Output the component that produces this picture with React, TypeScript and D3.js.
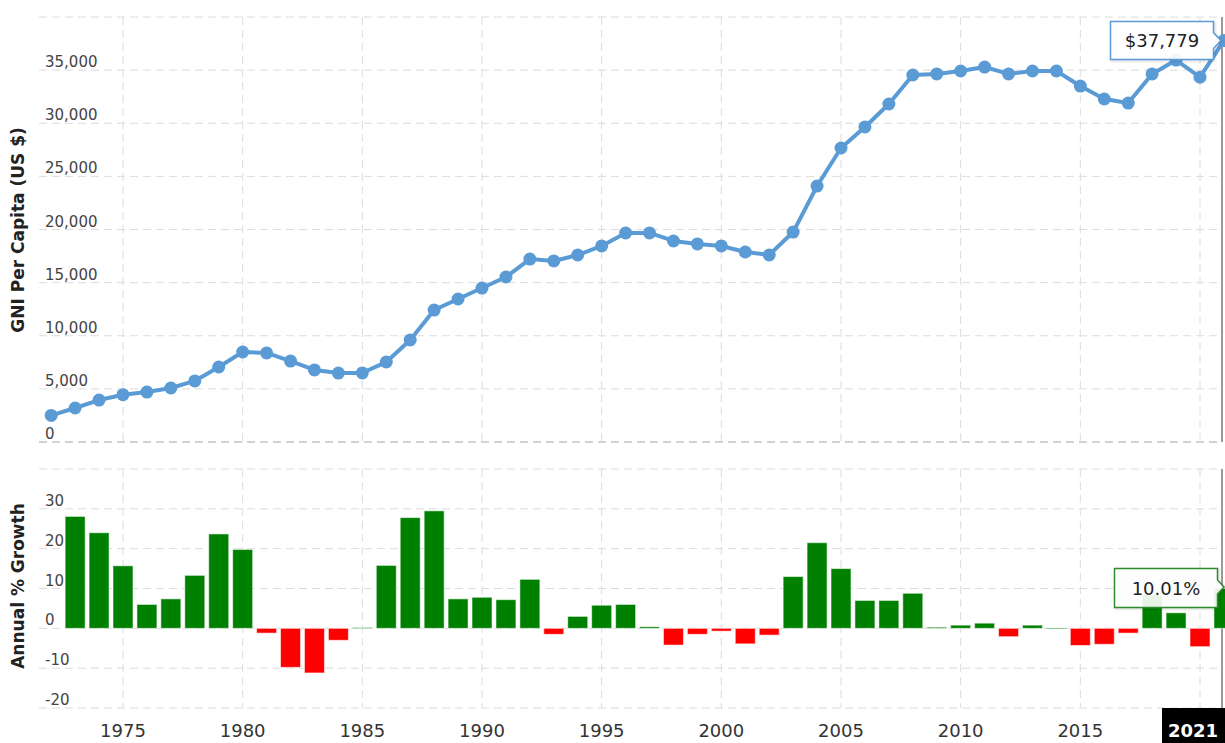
import React from "react";
import * as d3 from "d3";

const years: number[] = d3.range(1972, 2022);
const gniValues: number[] = [
  2500, 3200, 3950, 4450, 4700, 5080, 5750, 7060, 8470, 8380,
  7620, 6780, 6490, 6500, 7530, 9600, 12420, 13460, 14490, 15530,
  17220, 17040, 17600, 18450, 19670, 19680, 18920, 18640, 18450, 17880,
  17600, 19760, 24090, 27670, 29650, 31810, 34540, 34640, 34920, 35290,
  34640, 34920, 34920, 33500, 32280, 31900, 34640, 35950, 34340, 37779,
];
const growthYears: number[] = d3.range(1973, 2022);
const growthValues: number[] = [
  28.1, 24.0, 15.7, 6.0, 7.4, 13.3, 23.7, 19.8, -1.2, -9.8,
  -11.2, -3.0, 0.2, 15.8, 27.8, 29.5, 7.4, 7.8, 7.2, 12.3,
  -1.5, 3.0, 5.8, 6.0, 0.4, -4.2, -1.5, -0.7, -3.9, -1.7,
  13.0, 21.5, 15.0, 7.0, 7.0, 8.8, 0.3, 0.8, 1.3, -2.1,
  0.8, 0.1, -4.3, -4.0, -1.2, 8.4, 3.9, -4.6, 10.01,
];
const xTicks: number[] = [1975, 1980, 1985, 1990, 1995, 2000, 2005, 2010, 2015];
const topTicks: number[] = [0, 5000, 10000, 15000, 20000, 25000, 30000, 35000];
const topGrid: number[] = [0, 5000, 10000, 15000, 20000, 25000, 30000, 35000, 40000];
const bottomTicks: number[] = [-20, -10, 0, 10, 20, 30];
const bottomGrid: number[] = [-20, -10, 0, 10, 20, 30, 40];
const gridYears: number[] = [1975, 1980, 1985, 1990, 1995, 2000, 2005, 2010, 2015, 2020];

const FONT = "'DejaVu Sans', Verdana, sans-serif";

export default function App() {
  const W = 1225;
  const H = 743;
  const left = 39;
  const right = 1222;
  const x = d3.scaleLinear().domain([1975, 2020]).range([123, 1200]);
  const yTop = d3.scaleLinear().domain([0, 40000]).range([442, 17]);
  const yBot = d3.scaleLinear().domain([-20, 40]).range([708, 469]);
  const fmt = d3.format(",");
  const barW = 20;

  const line = d3
    .line<number>()
    .x((_, i) => x(years[i]))
    .y((d) => yTop(d));

  const lastX = x(2021);
  const lastY = yTop(gniValues[gniValues.length - 1]);
  const lastGrowth = growthValues[growthValues.length - 1];
  const grid = "#dcdcdc";

  return (
    <svg
      width={W}
      height={H}
      style={{ position: "absolute", left: 0, top: 0, display: "block", background: "#fff" }}
      fontFamily={FONT}
    >
      <defs>
        <clipPath id="plotclip">
          <rect x={left} y={0} width={W - left} height={H} />
        </clipPath>
        <filter id="shadow" x="-20%" y="-20%" width="140%" height="160%">
          <feDropShadow dx="1" dy="1" stdDeviation="1.2" floodColor="#000" floodOpacity="0.18" />
        </filter>
      </defs>

      {/* Top grid */}
      {topGrid.map((v) => (
        <line
          key={"tg" + v}
          x1={left}
          x2={right}
          y1={yTop(v)}
          y2={yTop(v)}
          stroke={v === 0 ? "#c4c4c4" : grid}
          strokeWidth={v === 0 ? 1.5 : 1}
          strokeDasharray="8,5"
        />
      ))}
      {gridYears.map((yr) => (
        <line
          key={"tv" + yr}
          x1={x(yr)}
          x2={x(yr)}
          y1={yTop(40000)}
          y2={yTop(0)}
          stroke={grid}
          strokeDasharray="8,5"
        />
      ))}
      {/* Bottom grid */}
      {bottomGrid.map((v) => (
        <line
          key={"bg" + v}
          x1={left}
          x2={right}
          y1={yBot(v)}
          y2={yBot(v)}
          stroke={grid}
          strokeDasharray="8,5"
        />
      ))}
      {gridYears.map((yr) => (
        <line
          key={"bv" + yr}
          x1={x(yr)}
          x2={x(yr)}
          y1={yBot(40)}
          y2={yBot(-20)}
          stroke={grid}
          strokeDasharray="8,5"
        />
      ))}

      {/* Top tick labels */}
      {topTicks.map((v) => (
        <text key={"tt" + v} x={45} y={yTop(v) - 3} fontSize={15} fill="#444">
          {fmt(v)}
        </text>
      ))}
      {/* Bottom tick labels */}
      {bottomTicks.map((v) => (
        <text key={"bt" + v} x={45} y={yBot(v) - 3} fontSize={15} fill="#444">
          {v}
        </text>
      ))}

      {/* Axis titles */}
      <text
        transform={`translate(24,230) rotate(-90)`}
        textAnchor="middle"
        fontSize={17}
        fontWeight="bold"
        fill="#222"
      >
        GNI Per Capita (US $)
      </text>
      <text
        transform={`translate(24,586) rotate(-90)`}
        textAnchor="middle"
        fontSize={17}
        fontWeight="bold"
        fill="#222"
      >
        Annual % Growth
      </text>

      {/* Crosshair */}
      <line x1={right} x2={right} y1={yTop(40000)} y2={yTop(0)} stroke="#9a9a9a" strokeWidth={2} />
      <line x1={right} x2={right} y1={yBot(40)} y2={yBot(-20)} stroke="#9a9a9a" strokeWidth={2} />

      {/* Bars */}
      <g clipPath="url(#plotclip)">
        {growthValues.map((v, i) => {
          const cx = x(growthYears[i]);
          const y0 = yBot(0);
          const y1 = yBot(v);
          return (
            <rect
              key={"bar" + i}
              x={cx - barW / 2}
              y={Math.min(y0, y1)}
              width={barW}
              height={Math.max(Math.abs(y1 - y0), 1)}
              fill={v >= 0 ? "#008000" : "#ff0000"}
              stroke="#ffffff"
              strokeOpacity={0.55}
              strokeWidth={1}
            />
          );
        })}
      </g>

      {/* Line + dots */}
      <g clipPath="url(#plotclip)">
        <path d={line(gniValues) || ""} fill="none" stroke="#5b9bd5" strokeWidth={4} strokeLinejoin="round" />
        {gniValues.map((v, i) => (
          <circle key={"pt" + i} cx={x(years[i])} cy={yTop(v)} r={6.5} fill="#5b9bd5" />
        ))}
      </g>

      {/* X labels */}
      {xTicks.map((yr) => (
        <text key={"xl" + yr} x={x(yr)} y={737} textAnchor="middle" fontSize={18} fill="#333">
          {yr}
        </text>
      ))}
      <rect x={1162} y={708} width={W - 1162} height={H - 708} fill="#000" />
      <text x={1193} y={737} textAnchor="middle" fontSize={18} fontWeight="bold" fill="#fff">
        2021
      </text>

      {/* Top tooltip */}
      <g filter="url(#shadow)">
        <path
          d={`M1110.5,21.5 H1213.5 V${lastY - 8} L${lastX - 3},${lastY} L1213.5,${lastY + 8} V59.5 H1110.5 Z`}
          fill="#fff"
          fillOpacity={0.92}
          stroke="#5b9bd5"
          strokeWidth={1.5}
        />
      </g>
      <text x={1162} y={47} textAnchor="middle" fontSize={18} fill="#222">
        {"$" + fmt(gniValues[gniValues.length - 1])}
      </text>

      {/* Bottom tooltip */}
      <g filter="url(#shadow)">
        <path
          d={`M1114.5,568.5 H1217.5 V580 L1224,587 L1217.5,594 V607.5 H1114.5 Z`}
          fill="#fff"
          fillOpacity={0.9}
          stroke="#2e8b2e"
          strokeWidth={1.5}
        />
      </g>
      <text x={1166} y={595} textAnchor="middle" fontSize={18} fill="#222">
        {lastGrowth.toFixed(2) + "%"}
      </text>
    </svg>
  );
}
